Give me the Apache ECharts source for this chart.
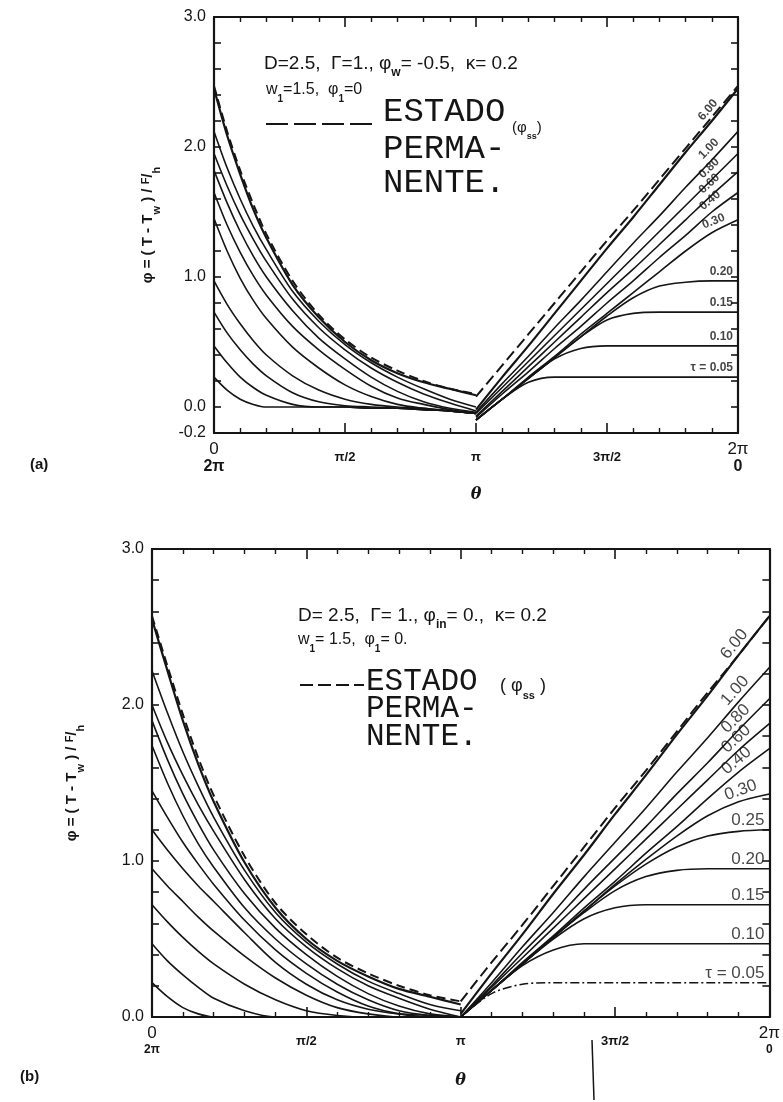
<!DOCTYPE html>
<html>
<head>
<meta charset="utf-8">
<script src="https://cdn.jsdelivr.net/npm/echarts@6/dist/echarts.min.js"></script>
<style>
  html, body { margin: 0; padding: 0; background: #fff; }
  #main { width: 783px; height: 1102px; }
</style>
</head>
<body>
<div id="main"></div>
<script>
// theta in units of pi
const thetaLeft = [0, 0.05, 0.1, 0.15, 0.2, 0.3, 0.4, 0.5, 0.6, 0.7, 0.8, 0.9, 1.0]
const thetaRight = [1.0, 1.1, 1.2, 1.3, 1.4, 1.5, 1.6, 1.7, 1.8, 1.9, 2.0]

// tick labels
const xTickValues = [0, 0.5, 1, 1.5, 2]
const xTickText = ['0', 'π/2', 'π', '3π/2', '2π']
const xTickText2 = ['2π', '', '', '', '0']
const yLabelsA = [-0.2, 0, 1, 2, 3]
const yLabelsB = [0, 1, 2, 3]

// ---- panel (a) ----
const tauA = ['6.00', '1.00', '0.80', '0.60', '0.40', '0.30', '0.20', '0.15', '0.10', 'τ = 0.05']
const phiLeftA = [
  [2.45, 2.09, 1.79, 1.52, 1.30, 0.94, 0.69, 0.50, 0.36, 0.26, 0.19, 0.14, 0.09],
  [2.12, 1.84, 1.60, 1.39, 1.21, 0.89, 0.66, 0.48, 0.34, 0.23, 0.14, 0.06, 0.00],
  [1.95, 1.70, 1.48, 1.29, 1.12, 0.83, 0.61, 0.44, 0.30, 0.19, 0.10, 0.03, -0.03],
  [1.82, 1.57, 1.35, 1.16, 1.00, 0.74, 0.53, 0.37, 0.23, 0.12, 0.04, -0.01, -0.04],
  [1.65, 1.40, 1.19, 1.01, 0.86, 0.62, 0.44, 0.29, 0.16, 0.07, 0.02, -0.02, -0.05],
  [1.45, 1.20, 0.99, 0.82, 0.68, 0.46, 0.30, 0.17, 0.08, 0.02, -0.01, -0.03, -0.05],
  [0.97, 0.79, 0.64, 0.51, 0.40, 0.24, 0.13, 0.06, 0.02, 0.00, -0.01, -0.03, -0.05],
  [0.73, 0.57, 0.44, 0.33, 0.24, 0.11, 0.04, 0.01, 0.00, -0.01, -0.02, -0.03, -0.05],
  [0.47, 0.34, 0.23, 0.15, 0.09, 0.02, 0.00, 0.00, -0.01, -0.01, -0.02, -0.03, -0.05],
  [0.23, 0.13, 0.06, 0.02, 0.00, 0.00, 0.00, 0.00, -0.01, -0.01, -0.02, -0.03, -0.05]
]
const phiRightA = [
  [-0.02, 0.23, 0.47, 0.72, 0.97, 1.22, 1.46, 1.71, 1.96, 2.20, 2.45],
  [-0.04, 0.18, 0.39, 0.61, 0.82, 1.04, 1.26, 1.47, 1.69, 1.90, 2.12],
  [-0.05, 0.15, 0.35, 0.55, 0.75, 0.95, 1.15, 1.35, 1.55, 1.75, 1.95],
  [-0.07, 0.12, 0.31, 0.50, 0.69, 0.88, 1.06, 1.25, 1.44, 1.63, 1.81],
  [-0.08, 0.10, 0.27, 0.45, 0.62, 0.80, 0.97, 1.15, 1.32, 1.50, 1.65],
  [-0.10, 0.06, 0.23, 0.39, 0.56, 0.72, 0.88, 1.04, 1.20, 1.34, 1.44],
  [-0.10, 0.06, 0.22, 0.38, 0.54, 0.70, 0.84, 0.93, 0.96, 0.97, 0.97],
  [-0.10, 0.06, 0.22, 0.38, 0.54, 0.67, 0.72, 0.73, 0.73, 0.73, 0.73],
  [-0.10, 0.06, 0.22, 0.37, 0.45, 0.47, 0.47, 0.47, 0.47, 0.47, 0.47],
  [-0.10, 0.06, 0.19, 0.23, 0.23, 0.23, 0.23, 0.23, 0.23, 0.23, 0.23]
]
const steadyLeftA = [2.47, 2.12, 1.82, 1.56, 1.33, 0.97, 0.71, 0.52, 0.38, 0.28, 0.20, 0.14, 0.10]
const steadyRightA = [0.08, 0.32, 0.56, 0.80, 1.04, 1.28, 1.51, 1.75, 1.99, 2.23, 2.47]

// ---- panel (b) ----
const tauB = ['6.00', '1.00', '0.80', '0.60', '0.40', '0.30', '0.25', '0.20', '0.15', '0.10', 'τ = 0.05']
const phiLeftB = [
  [2.55, 2.22, 1.90, 1.62, 1.38, 0.99, 0.70, 0.50, 0.36, 0.26, 0.18, 0.13, 0.08],
  [2.22, 1.95, 1.70, 1.48, 1.28, 0.94, 0.67, 0.48, 0.34, 0.23, 0.15, 0.08, 0.04],
  [2.00, 1.76, 1.55, 1.36, 1.19, 0.88, 0.63, 0.45, 0.31, 0.20, 0.12, 0.05, 0.00],
  [1.90, 1.65, 1.43, 1.24, 1.07, 0.79, 0.57, 0.40, 0.26, 0.15, 0.07, 0.02, 0.00],
  [1.74, 1.50, 1.29, 1.11, 0.96, 0.70, 0.50, 0.34, 0.21, 0.11, 0.04, 0.01, 0.00],
  [1.45, 1.28, 1.12, 0.98, 0.85, 0.62, 0.43, 0.28, 0.16, 0.07, 0.02, 0.00, 0.00],
  [1.20, 1.07, 0.95, 0.84, 0.74, 0.54, 0.35, 0.21, 0.11, 0.05, 0.02, 0.01, 0.00],
  [0.95, 0.84, 0.74, 0.64, 0.55, 0.39, 0.25, 0.14, 0.06, 0.02, 0.00, 0.00, 0.00],
  [0.72, 0.61, 0.51, 0.42, 0.34, 0.21, 0.11, 0.04, 0.01, 0.00, 0.00, 0.00, 0.00],
  [0.47, 0.36, 0.27, 0.19, 0.12, 0.04, 0.00, 0.00, 0.00, 0.00, 0.00, 0.00, 0.00],
  [0.22, 0.13, 0.06, 0.02, 0.00, 0.00, 0.00, 0.00, 0.00, 0.00, 0.00, 0.00, 0.00]
]
const phiRightB = [
  [0.02, 0.28, 0.53, 0.79, 1.04, 1.30, 1.55, 1.81, 2.06, 2.32, 2.57],
  [0.00, 0.22, 0.45, 0.67, 0.90, 1.12, 1.34, 1.57, 1.79, 2.02, 2.24],
  [0.00, 0.20, 0.41, 0.61, 0.82, 1.02, 1.22, 1.43, 1.63, 1.84, 2.04],
  [0.00, 0.19, 0.38, 0.57, 0.76, 0.95, 1.14, 1.33, 1.52, 1.71, 1.88],
  [0.00, 0.17, 0.35, 0.52, 0.70, 0.87, 1.05, 1.22, 1.40, 1.57, 1.72],
  [0.00, 0.17, 0.34, 0.51, 0.68, 0.85, 1.01, 1.16, 1.29, 1.38, 1.43],
  [0.00, 0.17, 0.34, 0.51, 0.68, 0.84, 0.98, 1.09, 1.16, 1.19, 1.20],
  [0.00, 0.17, 0.34, 0.51, 0.67, 0.81, 0.90, 0.94, 0.95, 0.95, 0.95],
  [0.00, 0.17, 0.34, 0.50, 0.63, 0.70, 0.72, 0.72, 0.72, 0.72, 0.72],
  [0.00, 0.17, 0.33, 0.43, 0.47, 0.47, 0.47, 0.47, 0.47, 0.47, 0.47],
  [0.00, 0.15, 0.21, 0.22, 0.22, 0.22, 0.22, 0.22, 0.22, 0.22, 0.22]
]
const steadyLeftB = [2.57, 2.25, 1.94, 1.66, 1.42, 1.03, 0.73, 0.53, 0.38, 0.28, 0.20, 0.14, 0.10]
const steadyRightB = [0.10, 0.35, 0.59, 0.84, 1.09, 1.34, 1.58, 1.83, 2.08, 2.32, 2.57]

// label rotation (deg) for curve labels, 0 = plateau label
const labelRotA = [50, 46, 44, 43, 40, 22, 0, 0, 0, 0]
const labelRotB = [52, 48, 45, 43, 41, 20, 0, 0, 0, 0, 0]

const INK = '#151515'
const SANS = 'Liberation Sans'
const MONO = 'Liberation Mono'

const chart = echarts.init(document.getElementById('main'), null, { renderer: 'canvas' })

function xAxisOf(grid, pos, big) {
  const isBottom = pos === 'bottom'
  return {
    gridIndex: grid,
    type: 'value',
    position: pos,
    min: 0,
    max: 2,
    interval: 0.5,
    axisLine: { show: true, onZero: false, lineStyle: { color: INK, width: 2.2 } },
    axisTick: { show: true, inside: true, length: 10, lineStyle: { color: INK, width: 1.6 } },
    minorTick: { show: true, splitNumber: 5, length: 5, lineStyle: { color: INK, width: 1.4 } },
    splitLine: { show: false },
    minorSplitLine: { show: false },
    axisLabel: {
      show: isBottom,
      margin: 8,
      color: INK,
      formatter: (v) => {
        const i = xTickValues.findIndex((t) => Math.abs(t - v) < 1e-6)
        if (i < 0) return ''
        if (xTickText2[i]) return '{n|' + xTickText[i] + '}\n{k|' + xTickText2[i] + '}'
        return '{m|' + xTickText[i] + '}'
      },
      rich: {
        n: { fontFamily: SANS, fontSize: 17, lineHeight: 17, color: INK },
        k: { fontFamily: SANS, fontSize: big ? 16 : 12, fontWeight: 'bold', lineHeight: big ? 18 : 15, color: INK },
        m: { fontFamily: SANS, fontSize: 13, fontWeight: 'bold', color: INK, padding: [10, 0, 0, 0] }
      }
    },
    name: isBottom ? 'θ' : '',
    nameLocation: 'middle',
    nameGap: big ? 54 : 56,
    nameTextStyle: { fontFamily: 'DejaVu Serif', fontStyle: 'italic', fontWeight: 'bold', fontSize: 16, color: INK }
  }
}

function yAxisOf(grid, pos, min, labels, nameGap) {
  const isLeft = pos === 'left'
  return {
    gridIndex: grid,
    type: 'value',
    position: pos,
    min: min,
    max: 3,
    interval: 0.2,
    axisLine: { show: true, onZero: false, lineStyle: { color: INK, width: 2.2 } },
    axisTick: { show: true, inside: true, length: 7, lineStyle: { color: INK, width: 1.6 } },
    splitLine: { show: false },
    axisLabel: {
      show: isLeft,
      margin: 8,
      color: INK,
      fontFamily: SANS,
      fontSize: 16,
      formatter: (v) => (labels.some((t) => Math.abs(t - v) < 1e-6) ? v.toFixed(1) : '')
    },
    name: isLeft ? '{t|φ = ( T - T}{s|w}{t| ) / }{u|F}{t|/}{s|h}' : '',
    nameLocation: 'middle',
    nameRotate: 90,
    nameGap: nameGap,
    nameTextStyle: {
      rich: {
        t: { fontFamily: SANS, fontSize: 15, fontWeight: 'bold', color: INK, lineHeight: 22, verticalAlign: 'top' },
        s: { fontFamily: SANS, fontSize: 11, fontWeight: 'bold', color: INK, lineHeight: 12, verticalAlign: 'bottom' },
        u: { fontFamily: SANS, fontSize: 11, fontWeight: 'bold', color: INK, lineHeight: 12, verticalAlign: 'top' }
      }
    }
  }
}

function pairs(xs, ys) {
  return xs.map((x, i) => [x, ys[i]])
}

function lineSeries(axis, data, dashed, width) {
  return {
    type: 'line',
    xAxisIndex: axis,
    yAxisIndex: axis,
    data: data,
    smooth: 0.3,
    symbol: 'none',
    silent: true,
    lineStyle: { color: INK, width: width || 1.6, type: dashed || 'solid' },
    z: 3
  }
}

function panelSeries(axis, taus, left, right, ssLeft, ssRight, rots, labelFont, lowDash) {
  const out = []
  taus.forEach((t, i) => {
    const w = i === 0 ? 2.2 : 1.6
    out.push(lineSeries(axis, pairs(thetaLeft, left[i]), 'solid', w))
    const dash = lowDash && i === taus.length - 1 ? [9, 3, 2, 3] : 'solid'
    out.push(lineSeries(axis, pairs(thetaRight, right[i]), dash, w))
  })
  out.push(lineSeries(axis, pairs(thetaLeft, ssLeft), [9, 5], 2))
  out.push(lineSeries(axis, pairs(thetaRight, ssRight), [11, 5], 2))

  // curve labels, anchored on the curve data
  const labelData = taus.map((t, i) => {
    const r = rots[i]
    if (r) {
      return {
        value: [thetaRight[9], right[i][9]],
        label: { formatter: t, rotate: r, offset: [6, -10] }
      }
    }
    const last = right[i].length - 1
    return {
      value: [thetaRight[last], right[i][last]],
      label: { formatter: t, align: 'right', offset: [-5, -9] }
    }
  })
  out.push({
    type: 'scatter',
    xAxisIndex: axis,
    yAxisIndex: axis,
    symbolSize: 1,
    itemStyle: { color: 'rgba(0,0,0,0)' },
    silent: true,
    data: labelData,
    label: {
      show: true,
      position: 'inside',
      color: INK,
      fontFamily: SANS,
      fontSize: labelFont.size,
      fontWeight: labelFont.weight
    },
    z: 5
  })
  return out
}

function richText(left, top, text, size, extra) {
  return {
    type: 'text',
    left: left,
    top: top,
    silent: true,
    style: Object.assign({
      text: text,
      fill: INK,
      rich: {
        t: { fontFamily: SANS, fontSize: size, fill: INK, lineHeight: size + 6, verticalAlign: 'top' },
        s: { fontFamily: SANS, fontSize: Math.round(size * 0.62), fontWeight: 'bold', fill: INK, lineHeight: Math.round(size * 0.7), verticalAlign: 'bottom' }
      }
    }, extra || {})
  }
}

function monoText(left, top, text, size) {
  return {
    type: 'text',
    left: left,
    top: top,
    silent: true,
    style: { text: text, fill: INK, font: size + 'px "' + MONO + '"' }
  }
}

const option = {
  animation: false,
  backgroundColor: '#ffffff',
  grid: [
    { left: 214, top: 17, width: 524, height: 416 },
    { left: 152, top: 549, width: 624, height: 468 }
  ],
  xAxis: [
    xAxisOf(0, 'bottom', true),
    xAxisOf(0, 'top', true),
    xAxisOf(1, 'bottom', false),
    xAxisOf(1, 'top', false)
  ],
  yAxis: [
    yAxisOf(0, 'left', -0.2, yLabelsA, 52),
    yAxisOf(0, 'right', -0.2, yLabelsA, 0),
    yAxisOf(1, 'left', 0, yLabelsB, 66),
    yAxisOf(1, 'right', 0, yLabelsB, 0)
  ],
  series: [].concat(
    panelSeries(0, tauA, phiLeftA, phiRightA, steadyLeftA, steadyRightA, labelRotA, { size: 12, weight: 'bold' }, false),
    panelSeries(2, tauB, phiLeftB, phiRightB, steadyLeftB, steadyRightB, labelRotB, { size: 17, weight: 'normal' }, true)
  ),
  graphic: [
    // panel (a) annotations
    richText(264, 54, '{t|D=2.5,  Γ=1., φ}{s|w}{t|= -0.5,  κ= 0.2}', 19),
    richText(266, 82, '{t|w}{s|1}{t|=1.5,  φ}{s|1}{t|=0}', 16),
    {
      type: 'line', silent: true,
      shape: { x1: 266, y1: 124, x2: 378, y2: 124 },
      style: { stroke: INK, lineWidth: 2, lineDash: [22, 6] }
    },
    monoText(383, 95, 'ESTADO', 34),
    richText(512, 120, '{t|(φ}{s|ss}{t|)}', 15),
    monoText(383, 132, 'PERMA-', 34),
    monoText(383, 166, 'NENTE.', 34),
    { type: 'text', left: 30, top: 457, silent: true, style: { text: '(a)', fill: INK, font: 'bold 15px "Liberation Sans"' } },

    // panel (b) annotations
    richText(298, 606, '{t|D= 2.5,  Γ= 1., φ}{s|in}{t|= 0.,  κ= 0.2}', 19),
    richText(298, 632, '{t|w}{s|1}{t|= 1.5,  φ}{s|1}{t|= 0.}', 16),
    {
      type: 'line', silent: true,
      shape: { x1: 300, y1: 685, x2: 364, y2: 685 },
      style: { stroke: INK, lineWidth: 2, lineDash: [13, 5] }
    },
    monoText(366, 666, 'ESTADO', 31),
    richText(500, 677, '{t|( φ}{s|ss}{t| )}', 18),
    monoText(366, 693, 'PERMA-', 31),
    monoText(366, 721, 'NENTE.', 31),
    { type: 'text', left: 20, top: 1069, silent: true, style: { text: '(b)', fill: INK, font: 'bold 15px "Liberation Sans"' } },
    {
      type: 'line', silent: true,
      shape: { x1: 592, y1: 1040, x2: 594, y2: 1100 },
      style: { stroke: INK, lineWidth: 1.5 }
    }
  ]
}

chart.setOption(option)
</script>
</body>
</html>
